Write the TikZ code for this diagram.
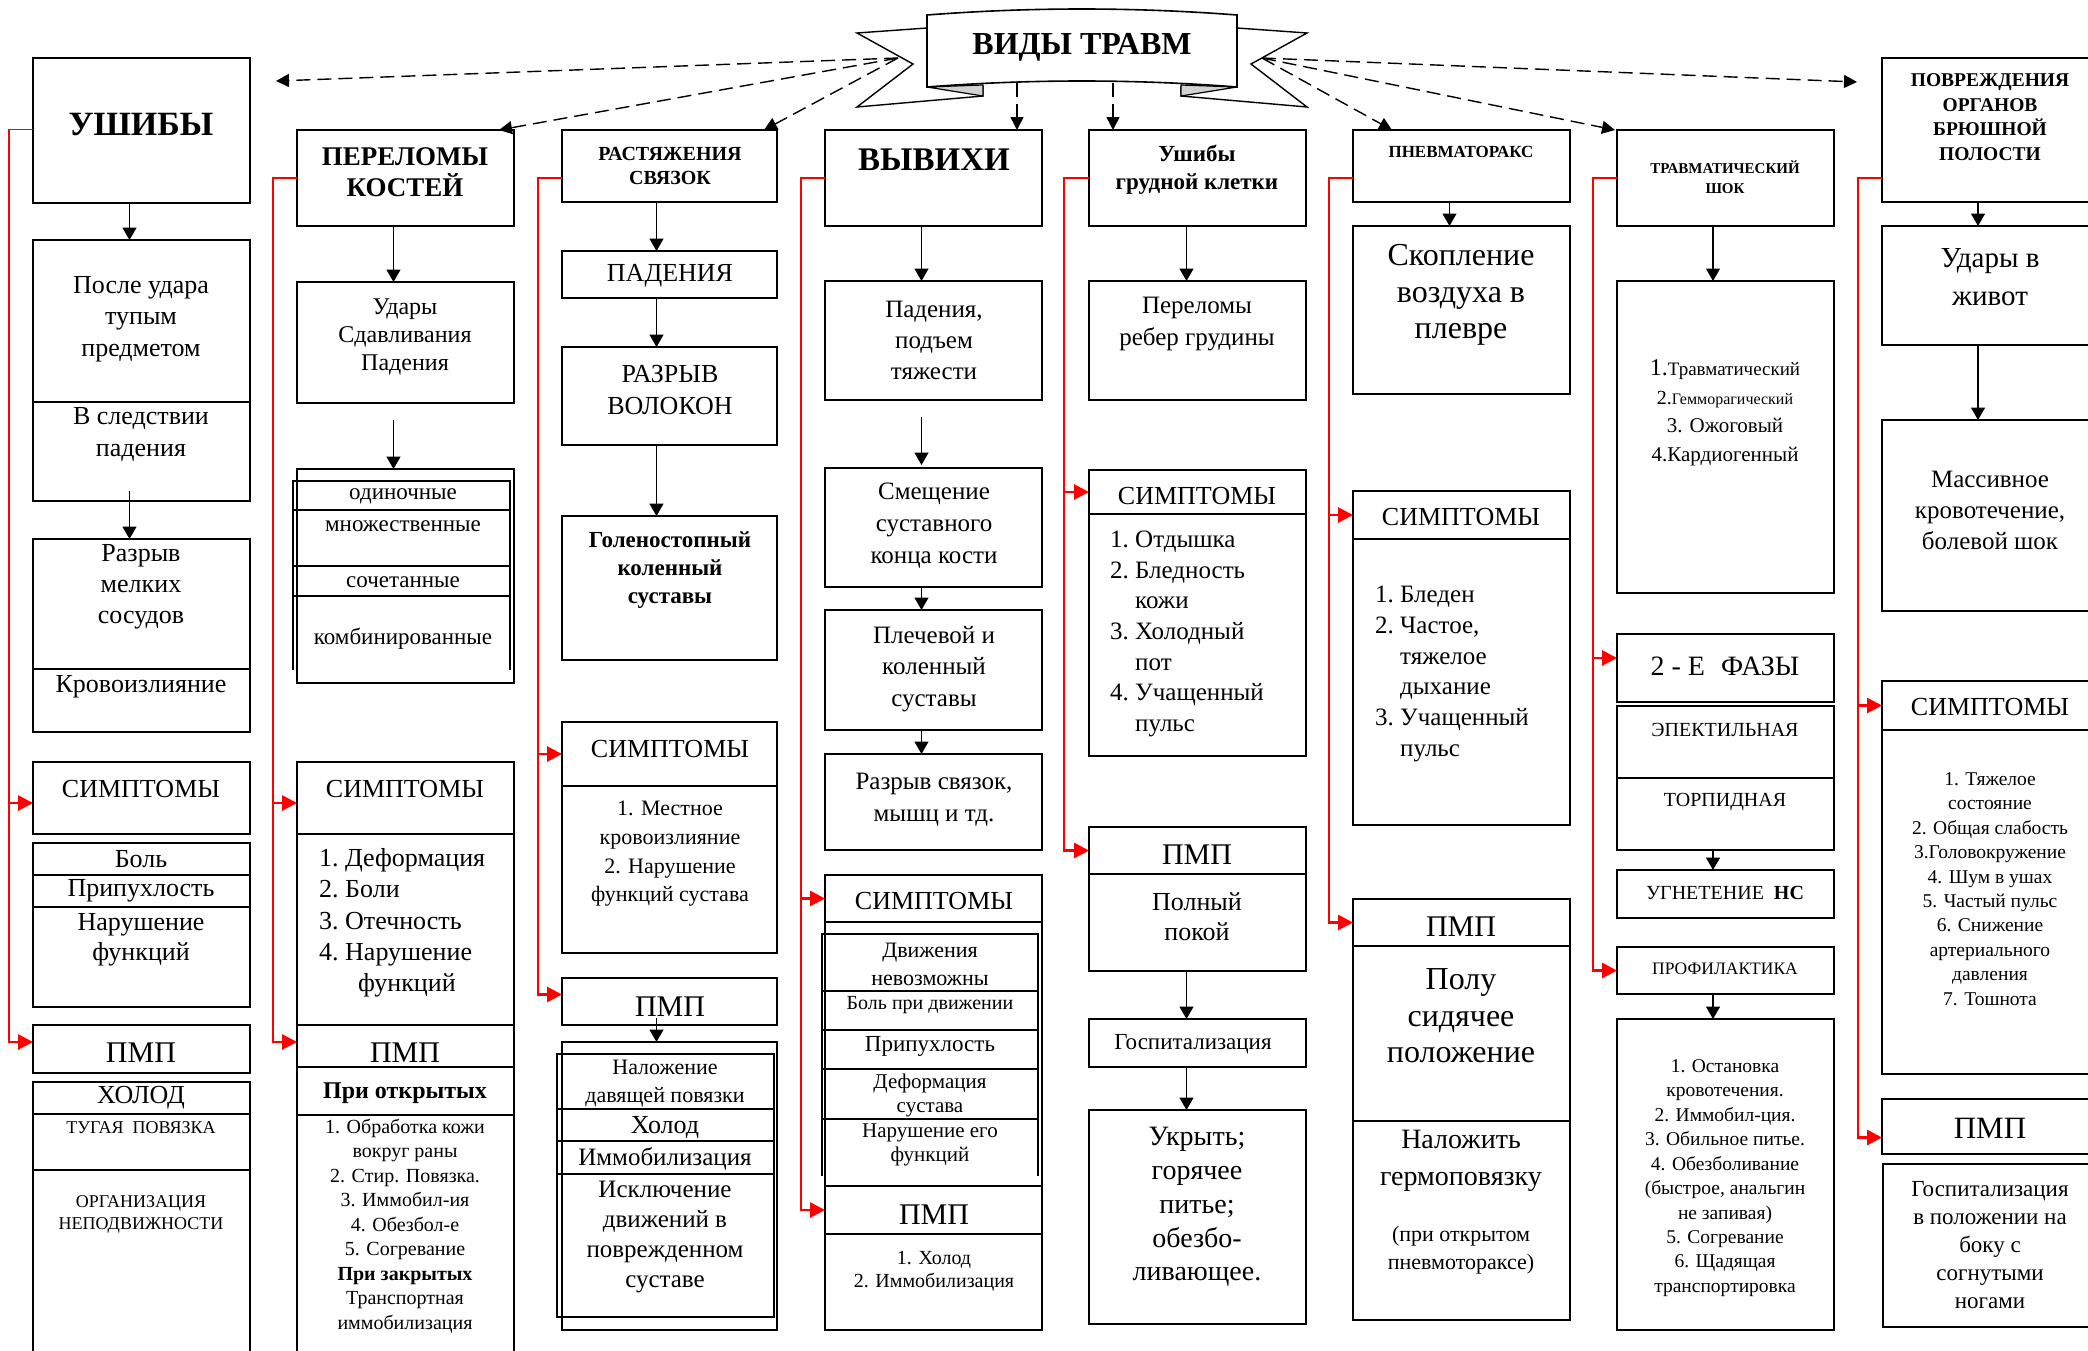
\documentclass[tikz,border=0pt]{standalone}
\usepackage{fontspec}
\setmainfont{Liberation Serif}
\usetikzlibrary{arrows.meta,calc}
\newcommand\fs[2]{\fontsize{#1}{#2}\selectfont}
\newcommand\bx[5]{\node[bx,anchor=north west,minimum width={#4pt-#2pt},minimum height={#5pt-#3pt}] (#1) at (#2,#3) {};}
\begin{document}
\begin{tikzpicture}[x=1pt,y=-1pt,
  bx/.style={draw,line width=1.6pt,inner sep=0pt,outer sep=0pt},
  txt/.style={inner sep=0pt,align=center},
  ln/.style={line width=1.6pt},
  arr/.style={line width=1.5pt,-{Triangle[length=12.5pt,width=14pt]}},
  dsh/.style={line width=1.4pt,dash pattern=on 14pt off 7pt,-{Triangle[length=13pt,width=13pt]}},
  rtn/.style={red,line width=1.5pt},
  rarr/.style={red,line width=2.8pt,-{Triangle[length=15pt,width=15pt]}}]
\fill[white] (0,0) rectangle (2088,1350);
\useasboundingbox (0,0) rectangle (2088,1350);
\coordinate (yl) at (0,178);
% ---------- banner
\draw[line width=1.4pt,fill=white] (927,28) -- (857,33) -- (913,64) -- (857,107) -- (983,96) -- (983,86);
\draw[line width=1.4pt,fill=white] (1237,28) -- (1307,33) -- (1251,64) -- (1307,107) -- (1181,96) -- (1181,86);
\draw[line width=1.2pt,fill=gray!35] (927,87) -- (983,85) -- (983,96) -- cycle;
\draw[line width=1.2pt,fill=gray!35] (1237,87) -- (1181,85) -- (1181,96) -- cycle;
\draw[line width=1.6pt,fill=white] (927,87) -- (927,15) .. controls (1030,7) and (1134,7) .. (1237,15) -- (1237,87) .. controls (1134,79) and (1030,79) .. (927,87) -- cycle;
\node[txt,font={\fs{32}{36}\bfseries}] (title) at (1082,47) {ВИДЫ ТРАВМ};
\coordinate (bl) at (898,58);
\coordinate (br) at (1262,58);
\coordinate (tv1) at (1017,83);
\coordinate (tv2) at (1113,83);
\coordinate (tA) at (276,81);
\coordinate (tB) at (1857,82);
% ---------- column 1
\bx{c1h}{33}{58}{250}{203}
\node[txt,font={\fs{34}{38}\bfseries}] (t1h) at (141,125) {УШИБЫ};
\bx{c1a}{33}{240}{250}{402}
\node[txt,font={\fs{26}{31.5}}] (t1a) at (141,319) {После удара\\тупым\\предметом};
\bx{c1b}{33}{402}{250}{501}
\node[txt,font={\fs{26}{32}}] (t1b) at (141,434) {В следствии\\падения};
\bx{c1c}{33}{539}{250}{669}
\node[txt,font={\fs{26}{31}}] (t1c) at (141,587) {Разрыв\\мелких\\сосудов};
\bx{c1d}{33}{669}{250}{732}
\node[txt,font={\fs{26}{31}}] (t1d) at (141,687) {Кровоизлияние};
\bx{c1s}{33}{762}{250}{834}
\node[txt,font={\fs{26}{31}}] (t1s) at (141,789) {СИМПТОМЫ};
\bx{c1s1}{33}{843}{250}{875}
\node[txt,font={\fs{26}{31}}] (t1s1) at (141,859) {Боль};
\bx{c1s2}{33}{875}{250}{907}
\node[txt,font={\fs{26}{31}}] (t1s2) at (141,891) {Припухлость};
\bx{c1s3}{33}{907}{250}{1007}
\node[txt,font={\fs{26}{30}}] (t1s3) at (141,940) {Нарушение\\функций};
\bx{c1p}{33}{1025}{250}{1073}
\node[txt,font={\fs{30}{34}}] (t1p) at (141,1053) {ПМП};
\bx{c1p1}{33}{1082}{250}{1114}
\node[txt,font={\fs{26}{30}}] (t1p1) at (141,1098) {ХОЛОД};
\bx{c1p2}{33}{1114}{250}{1170}
\node[txt,font={\fs{18}{22}}] (t1p2) at (141,1128) {ТУГАЯ\ \ ПОВЯЗКА};
\bx{c1p3}{33}{1170}{250}{1365}
\node[txt,font={\fs{18}{22}}] (t1p3) at (141,1214) {ОРГАНИЗАЦИЯ\\НЕПОДВИЖНОСТИ};
\draw[arr] ([xshift=-12pt]c1h.south) -- ([xshift=-12pt]c1a.north);
\draw[arr] ([xshift=-12pt,yshift=10pt]c1b.south) -- ([xshift=-12pt]c1c.north);
\draw[rtn] ([yshift=1pt]c1h.west) -- ++(-25,0);
\draw[rarr] ($(c1h.west)+(-24,-1)$) |- ([yshift=-5pt]c1s.west);
\draw[rarr] ($(c1h.west)+(-24,-1)$) |- ([yshift=7pt]c1p.west);
% ---------- column 2
\bx{c2h}{297}{130}{514}{226}
\node[txt,font={\fs{27}{31}\bfseries}] (t2h) at (405,172) {ПЕРЕЛОМЫ\\КОСТЕЙ};
\bx{c2a}{297}{282}{514}{403}
\node[txt,font={\fs{24}{28}}] (t2a) at (405,337) {Удары\\Сдавливания\\Падения};
\bx{c2b}{297}{469}{514}{683}
\draw[ln] (293,670) -- (293,481) -- (510,481) -- (510,670);
\draw[ln] (293,510) -- (510,510) (293,566) -- (510,566) (293,596) -- (510,596);
\node[txt,font={\fs{23}{28}}] (t2b1) at (403,496) {одиночные};
\node[txt,font={\fs{23}{28}}] (t2b2) at (403,526) {множественные};
\node[txt,font={\fs{23}{28}}] (t2b3) at (403,582) {сочетанные};
\node[txt,font={\fs{23}{28}}] (t2b4) at (403,639) {комбинированные};
\draw[arr] ([xshift=-12pt]c2h.south) -- ([xshift=-12pt]c2a.north);
\draw[arr,shorten <=17pt] ([xshift=-12pt]c2a.south) -- ([xshift=-12pt]c2b.north);
\bx{c2s}{297}{762}{514}{834}
\node[txt,font={\fs{26}{31}}] (t2s) at (405,789) {СИМПТОМЫ};
\bx{c2s1}{297}{834}{514}{1025}
\node[txt,align=left,anchor=west,font={\fs{26}{31.25}}] (t2s1) at (319,923) {1.\ Деформация\\2.\ Боли\\3.\ Отечность\\4.\ Нарушение\\\hspace*{39pt}функций};
\bx{c2p}{297}{1025}{514}{1067}
\node[txt,font={\fs{30}{34}}] (t2p) at (405,1053) {ПМП};
\bx{c2p1}{297}{1067}{514}{1115}
\node[txt,font={\fs{24}{28}\bfseries}] (t2p1) at (405,1093) {При открытых};
\bx{c2p2}{297}{1115}{514}{1365}
\node[txt,font={\fs{20}{24.5}}] (t2p2) at (405,1226) {1. Обработка кожи\\вокруг раны\\2. Стир. Повязка.\\3. Иммобил-ия\\4. Обезбол-е\\5. Согревание\\\textbf{При закрытых}\\Транспортная\\иммобилизация};
\draw[rtn] (c2h.west) -- ++(-25,0);
\draw[rarr] ($(c2h.west)+(-24,0)$) |- ([yshift=-5pt]c2s.west);
\draw[rarr] ($(c2h.west)+(-24,0)$) |- ([yshift=4pt]c2p.west);
% ---------- column 3
\bx{c3h}{562}{130}{777}{202}
\node[txt,font={\fs{20}{24}\bfseries}] (t3h) at (670,166) {РАСТЯЖЕНИЯ\\СВЯЗОК};
\bx{c3a}{562}{251}{777}{298}
\node[txt,font={\fs{26}{30}}] (t3a) at (670,276) {ПАДЕНИЯ};
\bx{c3b}{562}{347}{777}{445}
\node[txt,font={\fs{26}{32}}] (t3b) at (670,390) {РАЗРЫВ\\ВОЛОКОН};
\bx{c3c}{562}{516}{777}{660}
\node[txt,font={\fs{23}{28}\bfseries}] (t3c) at (670,570) {Голеностопный\\коленный\\суставы};
\bx{c3s}{562}{722}{777}{786}
\node[txt,font={\fs{26}{31}}] (t3s) at (670,749) {СИМПТОМЫ};
\bx{c3s1}{562}{786}{777}{953}
\node[txt,font={\fs{22}{28.7}}] (t3s1) at (670,854) {1. Местное\\кровоизлияние\\2. Нарушение\\функций сустава};
\bx{c3p}{562}{978}{777}{1025}
\node[txt,font={\fs{30}{34}}] (t3p) at (670,1007) {ПМП};
\bx{c3q}{562}{1042}{777}{1330}
\draw[ln] (557,1054) rectangle (774,1317);
\draw[ln] (557,1109) -- (774,1109) (557,1141) -- (774,1141) (557,1174) -- (774,1174);
\node[txt,font={\fs{22}{28}}] (t3q1) at (665,1084) {Наложение\\давящей повязки};
\node[txt,font={\fs{26}{30}}] (t3q2) at (665,1127) {Холод};
\node[txt,font={\fs{25}{30}}] (t3q3) at (665,1159) {Иммобилизация};
\node[txt,font={\fs{25}{30.3}}] (t3q4) at (665,1237) {Исключение\\движений в\\поврежденном\\суставе};
\draw[arr] ([xshift=-13pt]c3h.south) -- ([xshift=-13pt]c3a.north);
\draw[arr] ([xshift=-13pt]c3a.south) -- ([xshift=-13pt]c3b.north);
\draw[arr] ([xshift=-13pt]c3b.south) -- ([xshift=-13pt]c3c.north);
\draw[arr] ([xshift=-13pt,yshift=7pt]c3p.south) -- ([xshift=-13pt]c3q.north);
\draw[rtn] (c3h.west |- yl) -- ++(-25,0);
\draw[rarr] ($(c3h.west |- yl)+(-24,0)$) |- (c3s.west);
\draw[rarr] ($(c3h.west |- yl)+(-24,0)$) |- ([yshift=7pt]c3p.west);
% ---------- column 4
\bx{c4h}{825}{130}{1042}{226}
\node[txt,font={\fs{33}{37}\bfseries}] (t4h) at (934,160) {ВЫВИХИ};
\bx{c4a}{825}{281}{1042}{400}
\node[txt,font={\fs{25}{31}}] (t4a) at (934,340) {Падения,\\подъем\\тяжести};
\bx{c4b}{825}{468}{1042}{587}
\node[txt,font={\fs{25}{32}}] (t4b) at (934,526) {Смещение\\суставного\\конца кости};
\bx{c4c}{825}{610}{1042}{730}
\node[txt,font={\fs{25}{31.5}}] (t4c) at (934,669) {Плечевой и\\коленный\\суставы};
\bx{c4d}{825}{754}{1042}{850}
\node[txt,font={\fs{25}{32}}] (t4d) at (934,800) {Разрыв связок,\\мышц и тд.};
\bx{c4s}{825}{875}{1042}{922}
\node[txt,font={\fs{26}{31}}] (t4s) at (934,901) {СИМПТОМЫ};
\bx{c4s1}{825}{922}{1042}{1186}
\draw[ln] (822,1176) -- (822,934) -- (1038,934) -- (1038,1176);
\draw[ln] (822,991) -- (1038,991) (822,1030) -- (1038,1030) (822,1069) -- (1038,1069) (822,1119) -- (1038,1119);
\node[txt,font={\fs{22}{28}}] (t4s1) at (930,964) {Движения\\невозможны};
\node[txt,font={\fs{20}{24}}] (t4s2) at (930,1005) {Боль при движении};
\node[txt,font={\fs{23}{27}}] (t4s3) at (930,1046) {Припухлость};
\node[txt,font={\fs{21}{24}}] (t4s4) at (930,1095) {Деформация\\сустава};
\node[txt,font={\fs{21}{24}}] (t4s5) at (930,1145) {Нарушение его\\функций};
\bx{c4p}{825}{1186}{1042}{1234}
\node[txt,font={\fs{30}{34}}] (t4p) at (934,1215) {ПМП};
\bx{c4p1}{825}{1234}{1042}{1330}
\node[txt,font={\fs{20}{23}}] (t4p1) at (934,1271) {1. Холод\\2. Иммобилизация};
\draw[arr] ([xshift=-12pt]c4h.south) -- ([xshift=-12pt]c4a.north);
\draw[arr,shorten <=17pt,shorten >=3pt] ([xshift=-12pt]c4a.south) -- ([xshift=-12pt]c4b.north);
\draw[arr] ([xshift=-12pt]c4b.south) -- ([xshift=-12pt]c4c.north);
\draw[arr] ([xshift=-12pt]c4c.south) -- ([xshift=-12pt]c4d.north);
\draw[rtn] (c4h.west) -- ++(-25,0);
\draw[rarr] ($(c4h.west)+(-24,0)$) |- (c4s.west);
\draw[rarr] ($(c4h.west)+(-24,0)$) |- (c4p.west);
% ---------- column 5
\bx{c5h}{1089}{130}{1306}{226}
\node[txt,font={\fs{23}{28}\bfseries}] (t5h) at (1197,170) {Ушибы\\грудной клетки};
\bx{c5a}{1089}{281}{1306}{400}
\node[txt,font={\fs{25}{32}}] (t5a) at (1197,324) {Переломы\\ребер грудины};
\bx{c5s}{1089}{470}{1306}{514}
\node[txt,font={\fs{26}{31}}] (t5s) at (1197,496) {СИМПТОМЫ};
\bx{c5s1}{1089}{514}{1306}{756}
\node[txt,align=left,anchor=west,font={\fs{25}{30.7}}] (t5s1) at (1110,634) {1.\ Отдышка\\2.\ Бледность\\\hphantom{2.\ }кожи\\3.\ Холодный\\\hphantom{3.\ }пот\\4.\ Учащенный\\\hphantom{4.\ }пульс};
\bx{c5p}{1089}{827}{1306}{874}
\node[txt,font={\fs{30}{34}}] (t5p) at (1197,855) {ПМП};
\bx{c5p1}{1089}{874}{1306}{971}
\node[txt,font={\fs{26}{30}}] (t5p1) at (1197,917) {Полный\\покой};
\bx{c5g}{1089}{1019}{1306}{1067}
\node[txt,font={\fs{23}{27}}] (t5g) at (1193,1044) {Госпитализация};
\bx{c5u}{1089}{1110}{1306}{1324}
\node[txt,font={\fs{28}{33.75}}] (t5u) at (1197,1207) {Укрыть;\\горячее\\питье;\\обезбо-\\ливающее.};
\draw[arr] ([xshift=-11pt]c5h.south) -- ([xshift=-11pt]c5a.north);
\draw[arr] ([xshift=-11pt]c5p1.south) -- ([xshift=-11pt]c5g.north);
\draw[arr] ([xshift=-11pt]c5g.south) -- ([xshift=-11pt]c5u.north);
\draw[rtn] (c5h.west) -- ++(-26,0);
\draw[rarr] ($(c5h.west)+(-25,0)$) |- (c5s.west);
\draw[rarr] ($(c5h.west)+(-25,0)$) |- (c5p.west);
% ---------- column 6
\bx{c6h}{1353}{130}{1570}{202}
\node[txt,font={\fs{17}{21}\bfseries}] (t6h) at (1461,152) {ПНЕВМАТОРАКС};
\bx{c6a}{1353}{226}{1570}{394}
\node[txt,font={\fs{32}{36.5}}] (t6a) at (1461,295) {Скопление\\воздуха в\\плевре};
\bx{c6s}{1353}{491}{1570}{539}
\node[txt,font={\fs{26}{31}}] (t6s) at (1461,517) {СИМПТОМЫ};
\bx{c6s1}{1353}{539}{1570}{825}
\node[txt,align=left,anchor=west,font={\fs{25}{30.8}}] (t6s1) at (1375,674) {1.\ Бледен\\2.\ Частое,\\\hphantom{2.\ }тяжелое\\\hphantom{2.\ }дыхание\\3.\ Учащенный\\\hphantom{3.\ }пульс};
\bx{c6p}{1353}{899}{1570}{946}
\node[txt,font={\fs{30}{34}}] (t6p) at (1461,927) {ПМП};
\bx{c6p1}{1353}{946}{1570}{1121}
\node[txt,font={\fs{32}{36.5}}] (t6p1) at (1461,1016) {Полу\\сидячее\\положение};
\bx{c6p2}{1353}{1121}{1570}{1320}
\node[txt,font={\fs{28}{37}}] (t6p2) at (1461,1161) {Наложить\\гермоповязку};
\node[txt,font={\fs{22}{28}}] (t6p3) at (1461,1250) {(при открытом\\пневмотораксе)};
\draw[arr] ([xshift=-12pt]c6h.south) -- ([xshift=-12pt]c6a.north);
\draw[rtn] (c6h.west |- yl) -- ++(-25,0);
\draw[rarr] ($(c6h.west |- yl)+(-24,0)$) |- (c6s.west);
\draw[rarr] ($(c6h.west |- yl)+(-24,0)$) |- (c6p.west);
% ---------- column 7
\bx{c7h}{1617}{130}{1834}{226}
\node[txt,font={\fs{15}{20}\bfseries}] (t7h) at (1725,177) {ТРАВМАТИЧЕСКИЙ\\ШОК};
\bx{c7a}{1617}{281}{1834}{593}
\node[txt,font={\fs{21}{28.5}}] (t7a) at (1725,413) {{\fs{24}{28.5}1.}{\fs{19}{28.5}Травматический}\\{\fs{20}{28.5}2.}{\fs{16}{28.5}Гемморагический}\\3. Ожоговый\\4.Кардиогенный};
\bx{c7b}{1617}{634}{1834}{702}
\node[txt,font={\fs{28}{32}}] (t7b) at (1725,666) {2 - Е\hspace{16pt}ФАЗЫ};
\bx{c7c}{1617}{706}{1834}{778}
\node[txt,font={\fs{20}{24}}] (t7c) at (1725,730) {ЭПЕКТИЛЬНАЯ};
\bx{c7d}{1617}{778}{1834}{850}
\node[txt,font={\fs{20}{24}}] (t7d) at (1725,802) {ТОРПИДНАЯ};
\bx{c7e}{1617}{870}{1834}{918}
\node[txt,font={\fs{20}{24}}] (t7e) at (1725,893) {УГНЕТЕНИЕ\ \ \textbf{НС}};
\bx{c7f}{1617}{947}{1834}{994}
\node[txt,font={\fs{17.5}{21}}] (t7f) at (1725,969) {ПРОФИЛАКТИКА};
\bx{c7g}{1617}{1019}{1834}{1330}
\node[txt,font={\fs{19.5}{24.45}}] (t7g) at (1725,1178) {1. Остановка\\кровотечения.\\2. Иммобил-ция.\\3. Обильное питье.\\4. Обезболивание\\(быстрое, анальгин\\не запивая)\\5. Согревание\\6. Щадящая\\транспортировка};
\draw[arr] ([xshift=-12.5pt]c7h.south) -- ([xshift=-12.5pt]c7a.north);
\draw[arr] ([xshift=-12.5pt]c7d.south) -- ([xshift=-12.5pt]c7e.north);
\draw[arr] ([xshift=-12.5pt]c7f.south) -- ([xshift=-12.5pt]c7g.north);
\draw[rtn] (c7h.west) -- ++(-25,0);
\draw[rarr] ($(c7h.west)+(-24,0)$) |- ([yshift=10pt]c7b.west);
\draw[rarr] ($(c7h.west)+(-24,0)$) |- (c7f.west);
% ---------- column 8
\bx{c8h}{1882}{58}{2100}{202}
\node[txt,font={\fs{19.5}{24.7}\bfseries}] (t8h) at (1990,117) {ПОВРЕЖДЕНИЯ\\ОРГАНОВ\\БРЮШНОЙ\\ПОЛОСТИ};
\bx{c8a}{1882}{226}{2100}{345}
\node[txt,font={\fs{29}{38}}] (t8a) at (1990,277) {Удары в\\живот};
\bx{c8b}{1882}{420}{2100}{611}
\node[txt,font={\fs{25}{31}}] (t8b) at (1990,510) {Массивное\\кровотечение,\\болевой шок};
\bx{c8s}{1882}{681}{2100}{730}
\node[txt,font={\fs{26}{31}}] (t8s) at (1990,707) {СИМПТОМЫ};
\bx{c8s1}{1882}{730}{2100}{1074}
\node[txt,font={\fs{19.5}{24.4}}] (t8s1) at (1990,889) {1. Тяжелое\\состояние\\2. Общая слабость\\3.Головокружение\\4. Шум в ушах\\5. Частый пульс\\6. Снижение\\артериального\\давления\\7. Тошнота};
\bx{c8p}{1882}{1099}{2100}{1154}
\node[txt,font={\fs{31}{35}}] (t8p) at (1990,1128) {ПМП};
\bx{c8q}{1883}{1164}{2100}{1327}
\node[txt,font={\fs{23}{28}}] (t8q) at (1990,1245) {Госпитализация\\в положении на\\боку с\\согнутыми\\ногами};
\draw[arr] ([xshift=-13pt]c8h.south) -- ([xshift=-13pt]c8a.north);
\draw[arr] ([xshift=-13pt]c8a.south) -- ([xshift=-13pt]c8b.north);
\draw[rtn] (c8h.west |- yl) -- ++(-25,0);
\draw[rarr] ($(c8h.west |- yl)+(-24,0)$) |- (c8s.west);
\draw[rarr] ($(c8h.west |- yl)+(-24,0)$) |- ([yshift=-11pt]c8p.west);
% ---------- dashed arrows from banner
\draw[dsh] (bl) -- (tA);
\draw[dsh] (bl) -- ([xshift=-15pt]c2h.north east);
\draw[dsh] (bl) -- ([xshift=-13pt]c3h.north east);
\draw[dsh] (tv1) -- ([xshift=-25pt]c4h.north east);
\draw[dsh] (tv2) -- ([xshift=24pt]c5h.north west);
\draw[dsh] (br) -- ([xshift=39pt]c6h.north west);
\draw[dsh] (br) -- ([xshift=-2pt]c7h.north west);
\draw[dsh] (br) -- (tB);
\end{tikzpicture}
\end{document}
